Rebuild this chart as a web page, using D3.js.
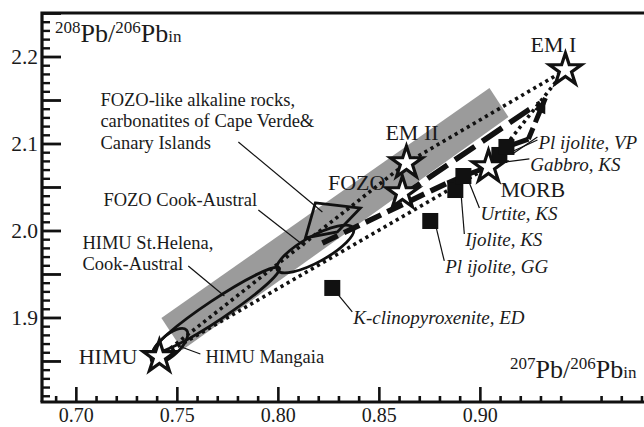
<!DOCTYPE html>
<html><head><meta charset="utf-8">
<script src="https://cdn.jsdelivr.net/npm/d3@7"></script>
<style>
body{margin:0;background:#fff}
svg text{font-family:"Liberation Serif","Times New Roman",serif;fill:#1a1a1a}
</style></head><body>
<svg id="chart" width="644" height="427"></svg>
<script>
// Mantle end-members: 207Pb/206Pb (x) vs 208Pb/206Pb (y)
const endMembers = ["HIMU", "FOZO", "EM II", "MORB", "EM I"];
const endMemberX = [0.7411, 0.8614, 0.8634, 0.9040, 0.9421];
const endMemberY = [1.8552, 2.0437, 2.0782, 2.0736, 2.1851];

// Alkaline rock and carbonatite samples
const samples = ["K-clinopyroxenite, ED", "Pl ijolite, GG", "Ijolite, KS", "Urtite, KS", "Gabbro, KS", "Pl ijolite, VP"];
const sampleX = [0.8267, 0.8752, 0.8876, 0.8916, 0.9094, 0.9129];
const sampleY = [1.9345, 2.0115, 2.0471, 2.0632, 2.0874, 2.0966];

// Axis ticks
const xTicks = [0.70, 0.75, 0.80, 0.85, 0.90];
const yTicks = [1.9, 2.0, 2.1, 2.2];

// Mantle array band (corners)
const bandX = [0.7421, 0.9045, 0.9139, 0.7525];
const bandY = [1.9000, 2.1644, 2.1310, 1.8632];

// Oceanic island fields: major-axis end points
const fieldNames = ["HIMU St.Helena", "FOZO Cook-Austral", "HIMU Mangaia"];
const fieldX0 = [0.7381, 0.7995, 0.7376];
const fieldY0 = [1.8609, 1.9552, 1.8494];
const fieldX1 = [0.8005, 0.8371, 0.7545];
const fieldY1 = [1.9575, 2.0034, 1.8862];

// FOZO-like alkaline rocks of Cape Verde & Canary Islands
const fozoLikeX = [0.8183, 0.8406, 0.8292, 0.8134];
const fozoLikeY = [2.0322, 2.0264, 1.9989, 1.9920];

// Binary mixing lines between end-members
const mixFrom = ["HIMU", "EM II", "HIMU", "MORB"];
const mixTo = ["EM II", "EM I", "MORB", "EM I"];

// Evolution trends of the samples
const trendUpperX = [0.8604, 0.9238, 0.9297];
const trendUpperY = [2.0391, 2.1391, 2.1471];
const trendLowerDashX = [0.8218, 0.8837];
const trendLowerDashY = [1.9862, 2.0552];
const trendLowerSolidX = [0.8837, 0.8916, 0.9040, 0.9129, 0.9238];
const trendLowerSolidY = [2.0552, 2.0632, 2.0736, 2.0966, 2.1057];
const trendLowerEndX = [0.9238, 0.9322];
const trendLowerEndY = [2.1057, 2.1529];

const svg = d3.select("#chart");
const mL = 42, mT = 13, mR = 644, mB = 402;

const x = d3.scaleLinear().domain([0.683, 0.981]).range([mL, mR]);
const y = d3.scaleLinear().domain([1.8034, 2.2506]).range([mB, mT]);
const ink = "#111";

// Band
svg.append("polygon")
  .attr("points", bandX.map((v, i) => [x(v), y(bandY[i])].join(",")).join(" "))
  .attr("fill", "#9b9b9b");

// Ellipse fields
const fieldW = [10, 13, 10];
function ellipseGeom(i) {
  const ax = x(fieldX0[i]), ay = y(fieldY0[i]), bx = x(fieldX1[i]), by = y(fieldY1[i]);
  const cx = (ax + bx) / 2, cy = (ay + by) / 2;
  const a = Math.hypot(bx - ax, by - ay) / 2, b = fieldW[i];
  const ang = Math.atan2(by - ay, bx - ax) * 180 / Math.PI;
  return {cx, cy, a, b, ang};
}
fieldNames.forEach((n, i) => {
  const e = ellipseGeom(i);
  svg.append("ellipse")
    .attr("cx", 0).attr("cy", 0).attr("rx", e.a).attr("ry", e.b)
    .attr("transform", `translate(${e.cx},${e.cy}) rotate(${e.ang})`)
    .attr("fill", "none").attr("stroke", ink).attr("stroke-width", 2.8);
});

// FOZO-like polygon
svg.append("polygon")
  .attr("points", fozoLikeX.map((v, i) => [x(v), y(fozoLikeY[i])].join(",")).join(" "))
  .attr("fill", "none").attr("stroke", ink).attr("stroke-width", 2.8).attr("stroke-linejoin", "miter");

// Mixing lines (dotted)
const emIndex = n => endMembers.indexOf(n);
mixFrom.forEach((f, i) => {
  const a = emIndex(f), b = emIndex(mixTo[i]);
  svg.append("line")
    .attr("x1", x(endMemberX[a])).attr("y1", y(endMemberY[a]))
    .attr("x2", x(endMemberX[b])).attr("y2", y(endMemberY[b]))
    .attr("stroke", ink).attr("stroke-width", 3.6)
    .attr("stroke-dasharray", "3.2,3.8");
});

// Trend lines
const line = d3.line().x(d => x(d[0])).y(d => y(d[1]));
const pts = (xs, ys) => xs.map((v, i) => [v, ys[i]]);
svg.append("path")
  .attr("d", line(pts(trendUpperX, trendUpperY)))
  .attr("fill", "none").attr("stroke", ink).attr("stroke-width", 5.5)
  .attr("stroke-dasharray", "24,9");
svg.append("path")
  .attr("d", line(pts(trendLowerDashX, trendLowerDashY)))
  .attr("fill", "none").attr("stroke", ink).attr("stroke-width", 5.5)
  .attr("stroke-dasharray", "17,7");
svg.append("path")
  .attr("d", line(pts(trendLowerSolidX, trendLowerSolidY)))
  .attr("fill", "none").attr("stroke", ink).attr("stroke-width", 5).attr("stroke-linejoin", "miter");
svg.append("path")
  .attr("d", line(pts(trendLowerEndX, trendLowerEndY)))
  .attr("fill", "none").attr("stroke", ink).attr("stroke-width", 5)
  .attr("stroke-dasharray", "12,6");
// Arrowhead at the end of the lower trend
{
  const n = trendLowerEndX.length;
  const tx = x(trendLowerEndX[n - 1]), ty = y(trendLowerEndY[n - 1]);
  const fx = x(trendLowerEndX[n - 2]), fy = y(trendLowerEndY[n - 2]);
  const ang = Math.atan2(ty - fy, tx - fx);
  const L = 15, hw = 6;
  const bx = tx - L * Math.cos(ang), by = ty - L * Math.sin(ang);
  const ox = -Math.sin(ang) * hw, oy = Math.cos(ang) * hw;
  svg.append("polygon")
    .attr("points", [[tx, ty], [bx + ox, by + oy], [bx - ox, by - oy]].map(p => p.join(",")).join(" "))
    .attr("fill", ink);
}

// Samples
const sq = 16;
svg.selectAll("rect.sample").data(samples).join("rect").attr("class", "sample")
  .attr("x", (d, i) => x(sampleX[i]) - sq / 2).attr("y", (d, i) => y(sampleY[i]) - sq / 2)
  .attr("width", sq).attr("height", sq).attr("fill", ink);

// End-member stars
const star = d3.symbol().type(d3.symbolStar).size(320);
svg.selectAll("path.em").data(endMembers).join("path").attr("class", "em")
  .attr("d", star)
  .attr("transform", (d, i) => `translate(${x(endMemberX[i])},${y(endMemberY[i])})`)
  .attr("fill", "#fff").attr("stroke", ink).attr("stroke-width", 3.2).attr("stroke-linejoin", "miter");

// End-member labels
const emLabelDx = [-22, -17, -21, 12, -12];
const emLabelDy = [7, -3, -23, 30, -18];
const emAnchor = ["end", "end", "start", "start", "middle"];
endMembers.forEach((n, i) => {
  svg.append("text").text(n)
    .attr("x", x(endMemberX[i]) + emLabelDx[i]).attr("y", y(endMemberY[i]) + emLabelDy[i])
    .attr("text-anchor", emAnchor[i]).attr("font-size", 22);
});

// Sample labels with leaders
const smLabelDx = [21, 15, 10, 17, 31, 32];
const smLabelDy = [36, 52, 56, 44, 16, 2];
samples.forEach((n, i) => {
  const px = x(sampleX[i]), py = y(sampleY[i]);
  svg.append("line").attr("x1", px + 6).attr("y1", py + 7)
    .attr("x2", px + smLabelDx[i] - 1).attr("y2", py + smLabelDy[i] - 12)
    .attr("stroke", ink).attr("stroke-width", 1.2);
  if (i === samples.length - 1) {
    svg.append("line").attr("x1", px + 7).attr("y1", py + 4)
      .attr("x2", px + smLabelDx[i] - 1).attr("y2", py + smLabelDy[i] - 9)
      .attr("stroke", ink).attr("stroke-width", 1.2);
  }
  svg.append("text").text(n)
    .attr("x", px + smLabelDx[i]).attr("y", py + smLabelDy[i])
    .attr("font-style", "italic").attr("font-size", 19);
});

// Field labels with leaders
const notes = [
  {lines: ["FOZO-like alkaline rocks,", "carbonatites of Cape Verde&", "Canary Islands"], tx: 0.7119, ty: 2.1437, l: [0.7802, 2.1023, 0.8218, 2.0218]},
  {lines: ["FOZO Cook-Austral"], tx: 0.7134, ty: 2.0287, l: [0.7901, 2.0241, 0.8129, 1.9828]},
  {lines: ["HIMU St.Helena,", "Cook-Austral"], tx: 0.7030, ty: 1.9793, l: [0.7554, 1.9598, 0.7733, 1.9253]},
  {lines: ["HIMU Mangaia"], tx: 0.7639, ty: 1.8483, l: [0.7520, 1.8667, 0.7614, 1.8586]}
];
notes.forEach(nt => {
  const t = svg.append("text").attr("x", x(nt.tx)).attr("y", y(nt.ty)).attr("font-size", 18.5);
  nt.lines.forEach((s, k) => t.append("tspan").attr("x", x(nt.tx)).attr("dy", k ? 21.5 : 0).text(s));
  svg.append("line").attr("x1", x(nt.l[0])).attr("y1", y(nt.l[1])).attr("x2", x(nt.l[2])).attr("y2", y(nt.l[3]))
    .attr("stroke", ink).attr("stroke-width", 1.2);
});

// Frame
svg.append("path").attr("d", `M${mL},${mB}V${mT}H${mR + 2}`)
  .attr("fill", "none").attr("stroke", ink).attr("stroke-width", 3.2);
svg.append("line").attr("x1", mL - 1.5).attr("x2", mR + 2).attr("y1", mB).attr("y2", mB)
  .attr("stroke", ink).attr("stroke-width", 3.2);

// X axis ticks
const xAxisG = svg.append("g").attr("transform", `translate(0,${mB})`);
const xMinor = d3.range(0.69, 0.981, 0.01).filter(v => Math.abs(v * 20 - Math.round(v * 20)) > 1e-6);
xAxisG.selectAll("line.mn").data(xMinor).join("line").attr("class", "mn")
  .attr("x1", d => x(d)).attr("x2", d => x(d)).attr("y1", 0).attr("y2", -6)
  .attr("stroke", ink).attr("stroke-width", 2.6);
xAxisG.selectAll("line.mj").data(xTicks).join("line").attr("class", "mj")
  .attr("x1", d => x(d)).attr("x2", d => x(d)).attr("y1", 0).attr("y2", -15)
  .attr("stroke", ink).attr("stroke-width", 2.6);
xAxisG.selectAll("text").data(xTicks).join("text")
  .attr("x", d => x(d)).attr("y", 20).attr("text-anchor", "middle").attr("font-size", 20)
  .text(d3.format(".2f"));

// Y axis ticks
const yAxisG = svg.append("g").attr("transform", `translate(${mL},0)`);
const yMinor = d3.range(1.81, 2.251, 0.01).filter(v => Math.abs(v * 20 - Math.round(v * 20)) > 1e-6);
const yMid = d3.range(1.85, 2.251, 0.05);
yAxisG.selectAll("line.mn").data(yMinor).join("line").attr("class", "mn")
  .attr("y1", d => y(d)).attr("y2", d => y(d)).attr("x1", 0).attr("x2", 8)
  .attr("stroke", ink).attr("stroke-width", 2.4);
yAxisG.selectAll("line.mj").data(yMid).join("line").attr("class", "mj")
  .attr("y1", d => y(d)).attr("y2", d => y(d)).attr("x1", 0).attr("x2", 19)
  .attr("stroke", ink).attr("stroke-width", 2.8);
yAxisG.selectAll("text").data(yTicks).join("text")
  .attr("x", -4).attr("y", d => y(d) + 7).attr("text-anchor", "end").attr("font-size", 21.5)
  .text(d3.format(".1f"));

// Axis titles
function isoTitle(tx, ty, a, b) {
  const t = svg.append("text").attr("x", tx).attr("y", ty).attr("font-size", 26);
  t.append("tspan").attr("font-size", 17).attr("dy", -9).text(a);
  t.append("tspan").attr("dy", 9).text("Pb/");
  t.append("tspan").attr("font-size", 17).attr("dy", -9).text(b);
  t.append("tspan").attr("dy", 9).text("Pb");
  t.append("tspan").attr("font-size", 17).text("in");
}
isoTitle(55, 42, "208", "206");
isoTitle(510, 378, "207", "206");
</script>
</body></html>
